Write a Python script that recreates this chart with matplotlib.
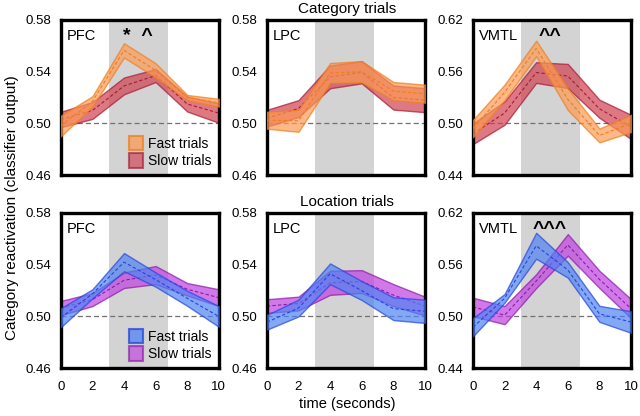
import numpy as np
import matplotlib.pyplot as plt
from matplotlib.patches import Patch

plt.rcParams['font.family'] = ['Liberation Sans', 'DejaVu Sans']

t = [0, 2, 4, 6, 8, 10]

# category trials: mean and half-width of band (fast / slow)
cat_pfc_fast = [0.498, 0.517, 0.5565, 0.541, 0.520, 0.516]
cat_pfc_fast_err = [0.008, 0.004, 0.0055, 0.0055, 0.002, 0.003]
cat_pfc_slow = [0.503, 0.510, 0.529, 0.537, 0.515, 0.508]
cat_pfc_slow_err = [0.006, 0.0065, 0.0065, 0.005, 0.0058, 0.0075]

cat_lpc_fast = [0.5025, 0.502, 0.539, 0.540, 0.525, 0.523]
cat_lpc_fast_err = [0.0065, 0.0085, 0.0077, 0.0082, 0.007, 0.007]
cat_lpc_slow = [0.504, 0.5115, 0.536, 0.5395, 0.520, 0.518]
cat_lpc_slow_err = [0.0065, 0.0065, 0.0088, 0.0085, 0.0093, 0.0093]

cat_vmtl_fast = [0.494, 0.536, 0.587, 0.528, 0.486, 0.500]
cat_vmtl_fast_err = [0.010, 0.009, 0.009, 0.0125, 0.008, 0.010]
cat_vmtl_slow = [0.488, 0.512, 0.559, 0.555, 0.517, 0.496]
cat_vmtl_slow_err = [0.012, 0.0135, 0.012, 0.014, 0.0105, 0.014]

# location trials
loc_pfc_fast = [0.499, 0.5175, 0.542, 0.5285, 0.514, 0.500]
loc_pfc_fast_err = [0.0073, 0.0035, 0.007, 0.0055, 0.0058, 0.008]
loc_pfc_slow = [0.5065, 0.513, 0.528, 0.532, 0.521, 0.5145]
loc_pfc_slow_err = [0.0055, 0.005, 0.006, 0.007, 0.0048, 0.0065]

loc_lpc_fast = [0.4955, 0.5065, 0.533, 0.520, 0.506, 0.504]
loc_lpc_fast_err = [0.0057, 0.0065, 0.008, 0.0073, 0.0088, 0.009]
loc_lpc_slow = [0.508, 0.510, 0.526, 0.527, 0.5165, 0.508]
loc_lpc_slow_err = [0.0053, 0.0053, 0.0093, 0.0088, 0.0085, 0.0073]

loc_vmtl_fast = [0.4875, 0.521, 0.582, 0.554, 0.503, 0.4935]
loc_vmtl_fast_err = [0.0105, 0.005, 0.015, 0.009, 0.0093, 0.0125]
loc_vmtl_slow = [0.511, 0.5015, 0.541, 0.583, 0.543, 0.509]
loc_vmtl_slow_err = [0.0108, 0.0105, 0.008, 0.0125, 0.010, 0.011]

regions = ['PFC', 'LPC', 'VMTL']
ylims = [(0.46, 0.58), (0.46, 0.58), (0.44, 0.62)]
yticks = [[0.46, 0.50, 0.54, 0.58], [0.46, 0.50, 0.54, 0.58], [0.44, 0.50, 0.56, 0.62]]
marks = [['*  ^', '', '^^'], ['', '', '^^^']]

rows = [
    [(cat_pfc_fast, cat_pfc_fast_err, cat_pfc_slow, cat_pfc_slow_err),
     (cat_lpc_fast, cat_lpc_fast_err, cat_lpc_slow, cat_lpc_slow_err),
     (cat_vmtl_fast, cat_vmtl_fast_err, cat_vmtl_slow, cat_vmtl_slow_err)],
    [(loc_pfc_fast, loc_pfc_fast_err, loc_pfc_slow, loc_pfc_slow_err),
     (loc_lpc_fast, loc_lpc_fast_err, loc_lpc_slow, loc_lpc_slow_err),
     (loc_vmtl_fast, loc_vmtl_fast_err, loc_vmtl_slow, loc_vmtl_slow_err)],
]

# (fill, edge) for fast then slow
row_colors = [
    [('#fb9a55', '#f07e1a'), ('#d0404f', '#a51a35')],
    [('#4f83f2', '#2444e0'), ('#c040e0', '#8a1aa8')],
]

fig = plt.figure(figsize=(6.4, 4.16), dpi=100)
lefts = [0.095, 0.417, 0.739]
bottoms = [0.579, 0.115]
w, h = 0.247, 0.373

for r in range(2):
    for c in range(3):
        ax = fig.add_axes([lefts[c], bottoms[r], w, h])
        ax.axvspan(3.05, 6.8, color='#d3d3d3', lw=0, zorder=0)
        ax.axhline(0.5, color='#707070', ls='--', lw=0.9, dashes=(4, 2.5), zorder=1)
        fm, fe, sm, se = rows[r][c]
        for k, (m, e) in enumerate([(sm, se), (fm, fe)]):
            fill, edge = row_colors[r][1 - k]
            m = np.array(m)
            e = np.array(e)
            ax.fill_between(t, m - e, m + e, facecolor=fill, alpha=0.7,
                            edgecolor=edge, lw=1.0, zorder=2 + k)
            ax.plot(t, m, color=edge, ls='--', lw=0.8, dashes=(3, 2), zorder=2 + k)
        ax.set_xlim(0, 10)
        ax.set_ylim(*ylims[c])
        ax.set_yticks(yticks[c])
        ax.set_yticklabels(['%.2f' % v for v in yticks[c]])
        ax.set_xticks([0, 2, 4, 6, 8, 10])
        if r == 0:
            ax.set_xticklabels([])
        ax.tick_params(length=0, labelsize=9.5, pad=7)
        ax.tick_params(axis='x', pad=9)
        for s in ax.spines.values():
            s.set_linewidth(2.4)
        ax.text(0.04, 0.94, regions[c], transform=ax.transAxes, fontsize=10.5,
                va='top', ha='left')
        if marks[r][c]:
            ax.text(4.85, ylims[c][1] - 0.05 * (ylims[c][1] - ylims[c][0]), marks[r][c],
                    fontsize=14, fontweight='bold', ha='center', va='top')
        if c == 0:
            hs = [Patch(facecolor=row_colors[r][0][0], edgecolor=row_colors[r][0][1],
                        alpha=0.75, lw=1.5),
                  Patch(facecolor=row_colors[r][1][0], edgecolor=row_colors[r][1][1],
                        alpha=0.65, lw=1.5)]
            ax.legend(hs, ['Fast trials', 'Slow trials'], loc='lower right',
                      frameon=False, fontsize=10, handlelength=1.0, handleheight=1.2,
                      handletextpad=0.4, labelspacing=0.2, borderaxespad=0.1)

fig.text(0.542, 0.978, 'Category trials', ha='center', va='center', fontsize=11)
fig.text(0.542, 0.515, 'Location trials', ha='center', va='center', fontsize=11)
fig.text(0.542, 0.03, 'time (seconds)', ha='center', va='center', fontsize=10.5)
fig.text(0.018, 0.5, 'Category reactivation (classifier output)', ha='center',
         va='center', rotation=90, fontsize=11)

fig.savefig('out.png', dpi=100)
